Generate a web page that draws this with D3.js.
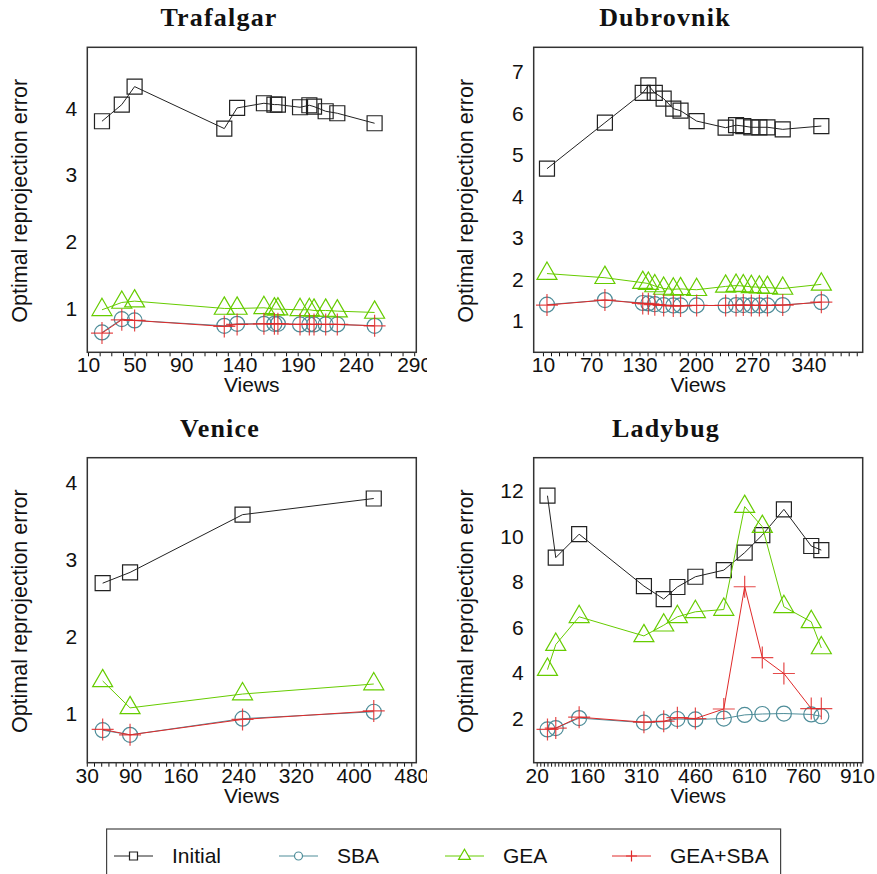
<!DOCTYPE html>
<html>
<head>
<meta charset="utf-8">
<script src="https://cdn.jsdelivr.net/npm/d3@7"></script>
<style>
  body { margin: 0; background: #fff; }
  text { font-family: "Liberation Sans", Arial, sans-serif; fill: #111; }
  .title { font-family: "Liberation Serif", "DejaVu Serif", serif; font-weight: bold; }
</style>
</head>
<body>
<script>
//////////////////////////////////////////////
// data //////////////////////////////////////
//////////////////////////////////////////////
var seriesNames = ["Initial", "SBA", "GEA", "GEA+SBA"];

// Trafalgar
var trafViews   = [22, 39, 50, 127, 138, 161, 170, 173, 192, 200, 204, 214, 224, 256];
var trafInitial = [3.81, 4.06, 4.33, 3.70, 4.01, 4.08, 4.06, 4.06, 4.02, 4.05, 4.03, 3.96, 3.93, 3.78];
var trafSBA     = [0.64, 0.84, 0.82, 0.74, 0.77, 0.77, 0.77, 0.77, 0.76, 0.76, 0.76, 0.76, 0.76, 0.74];
var trafGEA     = [0.98, 1.09, 1.11, 1.00, 1.00, 1.01, 0.99, 0.99, 0.98, 0.98, 0.97, 0.97, 0.96, 0.94];
var trafGEASBA  = [0.63, 0.83, 0.82, 0.73, 0.76, 0.77, 0.77, 0.77, 0.76, 0.76, 0.76, 0.76, 0.76, 0.74];
var trafXTicks  = [10, 50, 90, 140, 190, 240, 290];
var trafYTicks  = [1, 2, 3, 4];

// Dubrovnik
var dubViews   = [15, 87, 134, 141, 149, 160, 172, 181, 201, 237, 250, 259, 269, 279, 289, 308, 356];
var dubInitial = [4.67, 5.78, 6.50, 6.68, 6.50, 6.36, 6.12, 6.07, 5.82, 5.66, 5.72, 5.70, 5.67, 5.67, 5.67, 5.62, 5.70];
var dubSBA     = [1.39, 1.50, 1.43, 1.42, 1.40, 1.38, 1.37, 1.37, 1.37, 1.37, 1.38, 1.38, 1.37, 1.37, 1.37, 1.38, 1.45];
var dubGEA     = [2.14, 2.04, 1.92, 1.90, 1.84, 1.78, 1.76, 1.77, 1.75, 1.83, 1.85, 1.84, 1.82, 1.81, 1.80, 1.78, 1.88];
var dubGEASBA  = [1.38, 1.50, 1.42, 1.41, 1.39, 1.37, 1.36, 1.36, 1.37, 1.37, 1.37, 1.38, 1.37, 1.37, 1.37, 1.38, 1.45];
var dubXTicks  = [10, 70, 130, 200, 270, 340];
var dubYTicks  = [1, 2, 3, 4, 5, 6, 7];

// Venice
var venViews   = [52, 90, 246, 428];
var venInitial = [2.69, 2.83, 3.58, 3.79];
var venSBA     = [0.78, 0.72, 0.93, 1.02];
var venGEA     = [1.42, 1.07, 1.25, 1.38];
var venGEASBA  = [0.79, 0.72, 0.92, 1.03];
var venXTicks  = [30, 90, 160, 240, 320, 400, 480];
var venYTicks  = [1, 2, 3, 4];

// Ladybug
var ladyViews   = [50, 73, 138, 318, 373, 411, 461, 540, 598, 647, 707, 783, 811];
var ladyInitial = [11.79, 9.07, 10.10, 7.82, 7.25, 7.78, 8.23, 8.52, 9.29, 10.06, 11.19, 9.58, 9.40];
var ladySBA     = [1.52, 1.58, 2.02, 1.82, 1.86, 1.98, 1.96, 2.00, 2.16, 2.20, 2.22, 2.18, 2.10];
var ladyGEA     = [4.15, 5.25, 6.47, 5.63, 6.10, 6.47, 6.69, 6.79, 11.31, 10.43, 6.91, 6.25, 5.10];
var ladyGEASBA  = [1.52, 1.58, 2.06, 1.84, 1.88, 2.04, 2.00, 2.42, 7.79, 4.68, 3.98, 2.44, 2.44];
var ladyXTicks  = [20, 160, 310, 460, 610, 760, 910];
var ladyYTicks  = [2, 4, 6, 8, 10, 12];

//////////////////////////////////////////////
// Chart Config /////////////////////////////
//////////////////////////////////////////////
var colors = ["#222222", "#4e8d99", "#66cc00", "#e02a2a"];
var plotW = 329, plotH = 305;
var fontSize = "21px";

// plus marker (thin cross), d3.symbolCross is too fat
var plusSymbol = {
  draw: function(ctx, size) {
    var r = Math.sqrt(size) / 2;
    ctx.moveTo(-r, 0); ctx.lineTo(r, 0);
    ctx.moveTo(0, -r); ctx.lineTo(0, r);
  }
};
var shapes = [d3.symbolSquare, d3.symbolCircle, d3.symbolTriangle, plusSymbol];
var sizes = [225, 177, 173, 484];

var panels = [
  {title: "Trafalgar", views: trafViews, series: [trafInitial, trafSBA, trafGEA, trafGEASBA],
   xTicks: trafXTicks, yTicks: trafYTicks, xDomain: [9.4, 291.8], yDomain: [0.342, 4.92],
   left: 87.3, top: 47.3, titleX: 219, clip: [0, 427]},
  {title: "Dubrovnik", views: dubViews, series: [dubInitial, dubSBA, dubGEA, dubGEASBA],
   xTicks: dubXTicks, yTicks: dubYTicks, xDomain: [-1.5, 407.4], yDomain: [0.24, 7.6],
   left: 533.7, top: 47.3, titleX: 665, clip: [440, 877]},
  {title: "Venice", views: venViews, series: [venInitial, venSBA, venGEA, venGEASBA],
   xTicks: venXTicks, yTicks: venYTicks, xDomain: [30.7, 487], yDomain: [0.358, 4.32],
   left: 87.3, top: 457.7, titleX: 220, clip: [0, 427]},
  {title: "Ladybug", views: ladyViews, series: [ladyInitial, ladySBA, ladyGEA, ladyGEASBA],
   xTicks: ladyXTicks, yTicks: ladyYTicks, xDomain: [11.7, 926], yDomain: [0.06, 13.46],
   left: 533.7, top: 457.7, titleX: 666, clip: [440, 877]}
];

var svg = d3.select("body").append("svg")
  .attr("width", 877)
  .attr("height", 874);

//////////////////////////////////////////////
// Drawing ///////////////////////////////////
//////////////////////////////////////////////
function drawPanel(p, idx) {
  svg.append("clipPath").attr("id", "clip" + idx)
    .append("rect")
    .attr("x", p.clip[0]).attr("y", 0)
    .attr("width", p.clip[1] - p.clip[0]).attr("height", 874);

  var g = svg.append("g").attr("clip-path", "url(#clip" + idx + ")");

  var x = d3.scaleLinear().domain(p.xDomain).range([p.left, p.left + plotW]);
  var y = d3.scaleLinear().domain(p.yDomain).range([p.top + plotH, p.top]);

  // title
  g.append("text")
    .attr("class", "title")
    .attr("x", p.titleX)
    .attr("y", p.top - 21)
    .attr("text-anchor", "middle")
    .style("font-size", "26px")
    .style("letter-spacing", "1.2px")
    .text(p.title);

  // minor ticks every 10 views
  var minor = d3.range(p.xTicks[0], p.xDomain[1], 10);
  g.append("g")
    .attr("transform", "translate(0," + (p.top + plotH) + ")")
    .call(d3.axisBottom(x).tickValues(minor).tickSize(4).tickFormat(""))
    .call(function(a) { a.select(".domain").remove(); })
    .selectAll("line").attr("stroke", "#111").attr("stroke-width", 1);

  // labelled ticks
  g.append("g")
    .attr("transform", "translate(0," + (p.top + plotH) + ")")
    .call(d3.axisBottom(x).tickValues(p.xTicks).tickSize(0).tickPadding(5).tickFormat(d3.format("d")))
    .call(function(a) { a.select(".domain").remove(); })
    .selectAll("text")
    .attr("fill", "#111")
    .style("font-size", fontSize)
    .style("font-family", "Liberation Sans, Arial, sans-serif");

  g.append("g")
    .attr("transform", "translate(" + p.left + ",0)")
    .call(d3.axisLeft(y).tickValues(p.yTicks).tickSize(0).tickPadding(10).tickFormat(d3.format("d")))
    .call(function(a) { a.select(".domain").remove(); })
    .selectAll("text")
    .attr("fill", "#111")
    .style("font-size", fontSize)
    .style("font-family", "Liberation Sans, Arial, sans-serif");

  // axis titles
  g.append("text")
    .attr("x", p.left + plotW / 2)
    .attr("y", p.top + plotH + 40)
    .attr("text-anchor", "middle")
    .style("font-size", fontSize)
    .text("Views");

  g.append("text")
    .attr("transform", "translate(" + (p.left - 60.5) + "," + (p.top + plotH / 2 + 1) + ") rotate(-90)")
    .attr("text-anchor", "middle")
    .style("font-size", "21.5px")
    .text("Optimal reprojection error");

  // plot box
  g.append("rect")
    .attr("x", p.left).attr("y", p.top)
    .attr("width", plotW).attr("height", plotH)
    .attr("fill", "none")
    .attr("stroke", "#333")
    .attr("stroke-width", 1.5);

  var line = d3.line()
    .x(function(d) { return x(d.v); })
    .y(function(d) { return y(d.e); });

  p.series.forEach(function(vals, si) {
    var pts = vals.map(function(e, i) { return {v: p.views[i], e: e}; });

    g.append("path")
      .datum(pts)
      .attr("d", line)
      .attr("fill", "none")
      .attr("stroke", colors[si])
      .attr("stroke-width", 1);

    g.selectAll(".m" + si)
      .data(pts)
      .enter().append("path")
      .attr("class", "m" + si)
      .attr("transform", function(d) { return "translate(" + x(d.v) + "," + y(d.e) + ")"; })
      .attr("d", d3.symbol().type(shapes[si]).size(sizes[si]))
      .attr("fill", "none")
      .attr("stroke", colors[si])
      .attr("stroke-opacity", si == 3 ? 0.85 : 1)
      .attr("stroke-width", 1.2);
  });
}

panels.forEach(drawPanel);

// legend
var legendX = [114, 279, 445, 612];
var legend = svg.append("g");
legend.append("rect")
  .attr("x", 106.6).attr("y", 829)
  .attr("width", 674).attr("height", 60)
  .attr("fill", "none")
  .attr("stroke", "#444")
  .attr("stroke-width", 1.2);

var legSizes = [64, 50, 60, 120];
seriesNames.forEach(function(name, si) {
  var lx = legendX[si];
  legend.append("line")
    .attr("x1", lx).attr("x2", lx + 39)
    .attr("y1", 856).attr("y2", 856)
    .attr("stroke", colors[si]).attr("stroke-width", 1);
  legend.append("path")
    .attr("transform", "translate(" + (lx + 19.5) + ",856)")
    .attr("d", d3.symbol().type(shapes[si]).size(legSizes[si]))
    .attr("fill", "#fff")
    .attr("stroke", colors[si])
    .attr("stroke-width", 1.2);
  legend.append("text")
    .attr("x", lx + 58)
    .attr("y", 856)
    .attr("dy", "0.35em")
    .style("font-size", fontSize)
    .text(name);
});
</script>
</body>
</html>
